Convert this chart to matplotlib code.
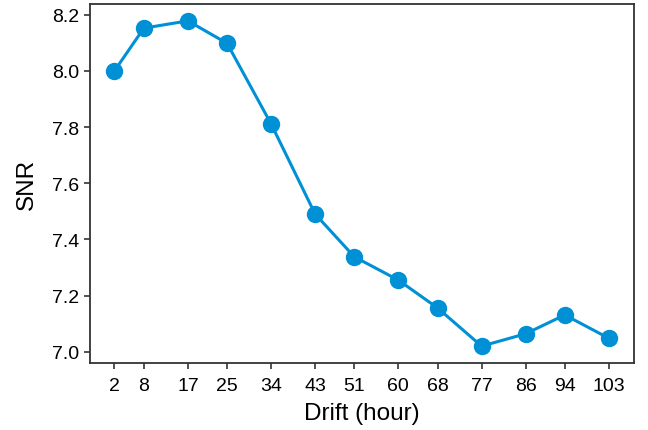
import matplotlib
matplotlib.use("Agg")
import matplotlib.pyplot as plt

# Drift time (hours) and measured SNR
drift_hours = [2, 8, 17, 25, 34, 43, 51, 60, 68, 77, 86, 94, 103]
snr = [8.00, 8.152, 8.178, 8.098, 7.811, 7.490, 7.338, 7.255, 7.156, 7.020, 7.064, 7.131, 7.048]
y_ticks = [7.0, 7.2, 7.4, 7.6, 7.8, 8.0, 8.2]

plt.rcParams['font.family'] = ['Liberation Sans', 'DejaVu Sans']

fig = plt.figure(figsize=(6.48, 4.31), dpi=100)
ax = fig.add_axes([90 / 648, 1 - 363.7 / 431, (634.3 - 90) / 648, (363.7 - 5) / 431])

ax.plot(drift_hours, snr, color='#0090d6', linewidth=2.2, marker='o', markersize=11.5)

ax.set_xlim(-3, 108.2)
ax.set_ylim(6.961, 8.238)
ax.set_xticks(drift_hours)
ax.set_xticklabels([str(h) for h in drift_hours])
ax.set_yticks(y_ticks)
ax.set_yticklabels([f"{v:.1f}" for v in y_ticks])

ax.set_xlabel('Drift (hour)', fontsize=17.5, labelpad=6)
ax.set_ylabel('SNR', fontsize=17.5, labelpad=10)
ax.tick_params(axis='both', labelsize=14, length=4.5, width=1.2, color='#333333', direction='out')
ax.tick_params(axis='x', pad=5.5)
for s in ax.spines.values():
    s.set_linewidth(1.3)
    s.set_color('#333333')

fig.savefig('out.png', dpi=100)
